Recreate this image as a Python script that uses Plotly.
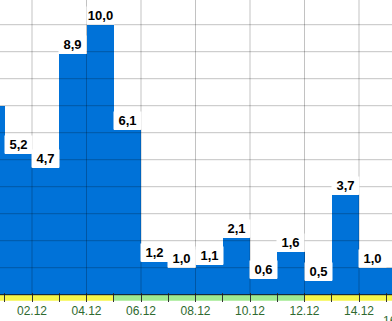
import plotly.graph_objects as go
import pandas as pd

# ---- data ----
dates = ["2024-11-30", "2024-12-01", "2024-12-02", "2024-12-03", "2024-12-04",
         "2024-12-05", "2024-12-06", "2024-12-07", "2024-12-08", "2024-12-09",
         "2024-12-10", "2024-12-11", "2024-12-12", "2024-12-13", "2024-12-14",
         "2024-12-15"]
values = [7.0, 5.2, 4.7, 8.9, 10.0, 6.1, 1.2, 1.0, 1.1, 2.1, 0.6, 1.6, 0.5, 3.7, 1.0, 1.0]
show_label = [False] + [True] * 14 + [False]

strip_starts = ["2024-11-28", "2024-12-05", "2024-12-12"]
strip_ends = ["2024-12-05", "2024-12-12", "2024-12-18"]
strip_colors = ["#f6f64a", "#a0ea90", "#f6f64a"]

grid_dates = ["2024-11-30", "2024-12-02", "2024-12-04", "2024-12-06", "2024-12-08",
              "2024-12-10", "2024-12-12", "2024-12-14"]
grid_levels = list(range(1, 11))
end_label = "16.12"

# ---- geometry ----
W, H = 392, 321
px_per_day = 27.25
ref_day = pd.Timestamp("2024-12-02")
ref_px = 32.0
x_start = ref_day - pd.Timedelta(days=ref_px / px_per_day)
x_end = x_start + pd.Timedelta(days=W / px_per_day)

px_per_unit = 27.0
plot_bottom_px = 302.0
baseline_px = 294.7
y_min = -(plot_bottom_px - baseline_px) / px_per_unit
y_max = baseline_px / px_per_unit
strip_h = (plot_bottom_px - baseline_px - 1.2) / px_per_unit

DAY_MS = 86400000
centers = [pd.Timestamp(d) + pd.Timedelta(hours=12) for d in dates]

bar_color = "#0072d8"
fig = go.Figure()
fig.add_trace(go.Bar(
    x=centers, y=values, width=[DAY_MS] * len(values),
    marker=dict(color=bar_color, line=dict(width=0)),
    hoverinfo="skip",
))

shapes = []
for s, e, c in zip(strip_starts, strip_ends, strip_colors):
    shapes.append(dict(type="rect", xref="x", yref="y", x0=s, x1=e,
                       y0=-strip_h - 0.001, y1=0, fillcolor=c, line=dict(width=0),
                       layer="below"))
for lv in grid_levels:
    shapes.append(dict(type="line", xref="paper", yref="y", x0=0, x1=1, y0=lv, y1=lv,
                       line=dict(color="rgba(0,0,0,0.24)", width=1), layer="above"))
for gd in grid_dates:
    shapes.append(dict(type="line", xref="x", yref="y", x0=gd, x1=gd, y0=0, y1=y_max,
                       line=dict(color="rgba(0,0,0,0.24)", width=1), layer="above"))
shapes.append(dict(type="line", xref="paper", yref="y", x0=0, x1=1, y0=0, y1=0,
                   line=dict(color="#1a1a1a", width=1), layer="above"))

annotations = []
for c, v, sl in zip(centers, values, show_label):
    if not sl:
        continue
    annotations.append(dict(
        x=c, y=v, xref="x", yref="y", text="<b>%s</b>" % ("%.1f" % v).replace(".", ","),
        showarrow=False, xanchor="center", yanchor="bottom",
        bgcolor="white", width=27, height=17, borderpad=0,
        font=dict(family="Arial, Liberation Sans, sans-serif", size=13, color="black"),
    ))
annotations.append(dict(
    x=dates[-1], y=-(312 - plot_bottom_px) / plot_bottom_px, xref="x", yref="paper",
    text=end_label, showarrow=False, xanchor="left", yanchor="top", xshift=-5,
    font=dict(family="Arial, Liberation Sans, sans-serif", size=12, color="#2f6a2f"),
))

fig.update_layout(
    width=W, height=H,
    margin=dict(l=0, r=0, t=0, b=int(H - plot_bottom_px)),
    paper_bgcolor="white", plot_bgcolor="white",
    showlegend=False, bargap=0,
    shapes=shapes, annotations=annotations,
    xaxis=dict(
        type="date", range=[x_start, x_end], showgrid=False, zeroline=False,
        showline=False, tickformat="%d.%m", dtick=2 * DAY_MS, tick0="2024-12-02",
        ticks="inside", ticklen=9, tickwidth=1, tickcolor="#333333",
        tickfont=dict(family="Arial, Liberation Sans, sans-serif", size=12, color="#2f6a2f"),
        minor=dict(dtick=DAY_MS, tick0="2024-12-01", ticks="inside", ticklen=9,
                   tickwidth=1, tickcolor="#333333", showgrid=False),
        layer="above traces", fixedrange=True,
    ),
    yaxis=dict(range=[y_min, y_max], showgrid=False, zeroline=False,
               showticklabels=False, ticks="", showline=False, fixedrange=True),
)

fig.write_html("out.html", config={"displayModeBar": False})
